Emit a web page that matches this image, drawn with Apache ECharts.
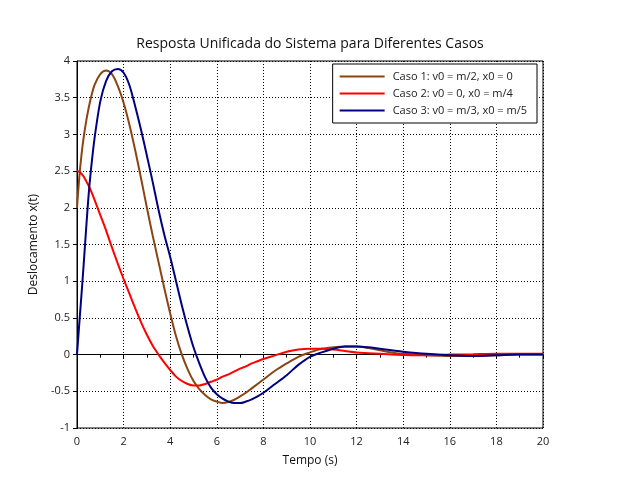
<!DOCTYPE html>
<html>
<head>
<meta charset="utf-8">
<script src="https://cdn.jsdelivr.net/npm/echarts@6/dist/echarts.min.js"></script>
<style>
  html, body { margin: 0; padding: 0; background: #fff; }
  #main { width: 620px; height: 490px; }
</style>
</head>
<body>
<div id="main"></div>
<script>
// tempo (s)
var tempo = [0, 0.1, 0.2, 0.3, 0.4, 0.5, 0.6, 0.75, 1, 1.25, 1.5, 1.75, 2, 2.25, 2.5, 2.75,
  3, 3.25, 3.5, 3.75, 4, 4.25, 4.5, 4.75, 5, 5.25, 5.5, 5.75, 6, 6.25, 6.5, 6.75,
  7, 7.25, 7.5, 7.75, 8, 8.5, 9, 9.5, 10, 10.5, 11, 11.5, 12, 12.5, 13, 13.5, 14,
  15, 16, 17, 18, 19, 20];

// Caso 1: v0 = m/2, x0 = 0
var caso1 = [2.0, 2.42, 2.74, 2.99, 3.19, 3.36, 3.50, 3.67, 3.82, 3.87, 3.82, 3.66, 3.43, 3.13, 2.78, 2.40,
  2.0, 1.62, 1.26, 0.9, 0.56, 0.25, 0.0, -0.2, -0.36, -0.47, -0.55, -0.61, -0.64, -0.66, -0.645, -0.615,
  -0.57, -0.52, -0.46, -0.40, -0.34, -0.22, -0.12, -0.03, 0.03, 0.08, 0.10, 0.11, 0.11, 0.09, 0.06, 0.03, 0.01,
  -0.01, -0.02, -0.02, -0.01, 0.0, 0.0];

// Caso 2: v0 = 0, x0 = m/4
var caso2 = [2.5, 2.49, 2.46, 2.42, 2.36, 2.30, 2.23, 2.11, 1.90, 1.69, 1.46, 1.24, 1.03, 0.83, 0.63, 0.44,
  0.27, 0.12, 0.0, -0.11, -0.21, -0.30, -0.36, -0.40, -0.42, -0.42, -0.40, -0.37, -0.34, -0.30, -0.27, -0.23,
  -0.19, -0.16, -0.12, -0.09, -0.06, -0.01, 0.04, 0.07, 0.08, 0.08, 0.07, 0.05, 0.03, 0.02, 0.01, 0.0, -0.005,
  -0.01, 0.0, 0.005, 0.01, 0.01, 0.01];

// Caso 3: v0 = m/3, x0 = m/5
var caso3 = [0, 0.43, 0.85, 1.29, 1.75, 2.18, 2.52, 2.94, 3.45, 3.73, 3.86, 3.89, 3.84, 3.67, 3.38, 3.06,
  2.71, 2.35, 1.97, 1.63, 1.33, 1.0, 0.67, 0.37, 0.10, -0.12, -0.31, -0.45, -0.54, -0.60, -0.64, -0.66,
  -0.66, -0.64, -0.61, -0.57, -0.52, -0.40, -0.28, -0.14, -0.03, 0.03, 0.08, 0.11, 0.11, 0.10, 0.08, 0.06, 0.04,
  0.01, -0.01, -0.02, -0.01, 0.0, 0.0];

var nomes = ['Caso 1: v0 = m/2, x0 = 0', 'Caso 2: v0 = 0, x0 = m/4', 'Caso 3: v0 = m/3, x0 = m/5'];
var cores = ['#8b4513', '#ff0000', '#000080'];

function pares(vals) {
  return tempo.map(function (t, i) { return [t, vals[i]]; });
}

var fonte = 'Open Sans';
var myChart = echarts.init(document.getElementById('main'));

myChart.setOption({
  animation: false,
  backgroundColor: '#fff',
  title: {
    text: 'Resposta Unificada do Sistema para Diferentes Casos',
    left: 'center',
    top: 32,
    textStyle: { fontFamily: fonte, fontSize: 14, fontWeight: 'normal', color: '#111' }
  },
  legend: {
    orient: 'vertical',
    right: 83,
    top: 64,
    padding: [7, 10, 7, 7],
    itemGap: 6,
    itemWidth: 45,
    itemHeight: 2,
    icon: 'rect',
    backgroundColor: '#fff',
    borderColor: '#000',
    borderWidth: 1,
    borderRadius: 0,
    textStyle: { fontFamily: fonte, fontSize: 11, color: '#222', padding: [0, 0, 0, 3] },
    data: nomes
  },
  grid: {
    left: 77, right: 77, top: 61, bottom: 62,
    show: true, borderColor: '#000', borderWidth: 1, backgroundColor: 'transparent'
  },
  xAxis: {
    type: 'value',
    min: 0, max: 20, interval: 2,
    name: 'Tempo (s)',
    nameLocation: 'middle',
    nameGap: 27,
    nameTextStyle: { fontFamily: fonte, fontSize: 12, color: '#111' },
    axisLine: { show: true, lineStyle: { color: '#000', width: 1 } },
    axisTick: { show: true, inside: false, length: 4, lineStyle: { color: '#000' } },
    minorTick: { show: true, splitNumber: 2, length: 3, lineStyle: { color: '#000' } },
    axisLabel: { fontFamily: fonte, fontSize: 11, color: '#222', margin: 8 },
    splitLine: { show: true, lineStyle: { color: '#000', type: [1, 2], width: 1 } }
  },
  yAxis: {
    type: 'value',
    min: -1, max: 4, interval: 0.5,
    name: 'Deslocamento x(t)',
    nameLocation: 'middle',
    nameGap: 37,
    nameTextStyle: { fontFamily: fonte, fontSize: 12, color: '#111' },
    axisLine: { show: true, lineStyle: { color: '#000', width: 1 } },
    axisTick: { show: true, inside: false, length: 4, lineStyle: { color: '#000' } },
    axisLabel: { fontFamily: fonte, fontSize: 11, color: '#222', margin: 7 },
    splitLine: { show: true, lineStyle: { color: '#000', type: [1, 2], width: 1 } }
  },
  series: [caso1, caso2, caso3].map(function (vals, i) {
    return {
      name: nomes[i],
      type: 'line',
      data: pares(vals),
      smooth: 0.3,
      symbol: 'none',
      lineStyle: { color: cores[i], width: 2 },
      itemStyle: { color: cores[i] }
    };
  })
});
</script>
</body>
</html>
